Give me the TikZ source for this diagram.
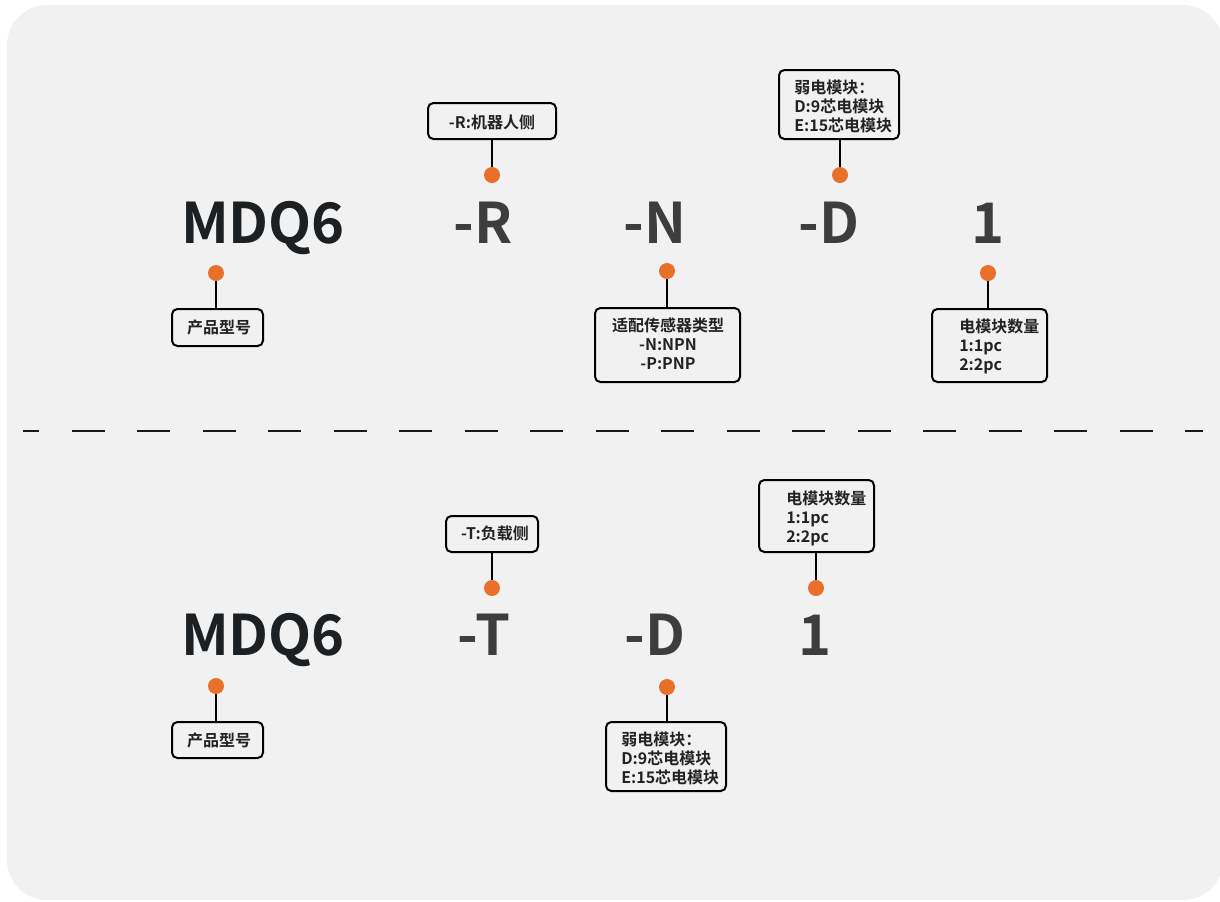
\documentclass[tikz,border=0pt]{standalone}
\usepackage{fontspec}
\setmainfont{Noto Sans CJK SC}[BoldFont={Noto Sans CJK SC Bold}]
\definecolor{bgc}{HTML}{F1F1F1}
\definecolor{dotc}{HTML}{E8702A}
\definecolor{bigdark}{HTML}{1C2022}
\definecolor{biggray}{HTML}{3D3D3D}
\definecolor{txtc}{HTML}{222222}
\tikzset{
  lbl/.style={draw=black, line width=1.5pt, rounded corners=4pt, fill=bgc, inner sep=0pt},
  dotn/.style={circle, fill=dotc, minimum size=12pt, inner sep=0pt},
  bigm/.style={font=\bfseries\fontsize{42}{42}\selectfont, text=bigdark, inner sep=0pt, anchor=base},
  bigg/.style={font=\bfseries\fontsize{42}{42}\selectfont, text=biggray, inner sep=0pt, anchor=base},
  txt/.style={font=\bfseries\fontsize{12}{14.25}\selectfont, text=txtc, inner sep=0pt},
  conn/.style={line width=1.6pt, draw=black},
}
\begin{document}
\begin{tikzpicture}[x=0.75pt, y=-0.75pt]
\useasboundingbox (0,0) rectangle (1220,901);
\clip (0,0) rectangle (1220,901);
\fill[bgc, rounded corners=30pt] (7,5) rectangle (1223,900);

% ---------- top row ----------
\node[bigm] (t0) at (263,243) {MDQ6};
\node[bigg] (t1) at (483,243) {-R};
\node[bigg] (t2) at (655,243) {-N};
\node[bigg] (t3) at (829,243) {-D};
\node[bigg] (t4) at (988,243) {1};

\node[dotn] (td0) at (216,273) {};
\node[dotn] (td1) at (492,175) {};
\node[dotn] (td2) at (667,271) {};
\node[dotn] (td3) at (840,175) {};
\node[dotn] (td4) at (988,273) {};

\node[lbl, minimum width=68.25pt, minimum height=27.75pt] (tb0) at (217.5,327.5) {};
\node[lbl, minimum width=96pt, minimum height=27pt] (tb1) at (492,121) {};
\node[lbl, minimum width=108.75pt, minimum height=55.5pt] (tb2) at (667.5,345) {};
\node[lbl, minimum width=90pt, minimum height=51.75pt] (tb3) at (839,104.5) {};
\node[lbl, minimum width=86.25pt, minimum height=54.75pt] (tb4) at (989.5,345.5) {};

\draw[conn] (td0) -- (td0 |- tb0.north);
\draw[conn] (td1) -- (td1 |- tb1.south);
\draw[conn] (td2) -- (td2 |- tb2.north);
\draw[conn] (td3) -- (td3 |- tb3.south);
\draw[conn] (td4) -- (td4 |- tb4.north);

\node[txt, anchor=base] (tt0) at (219,333) {产品型号};
\node[txt, anchor=base] (tt1) at (492,128) {-R:机器人侧};
\node[txt, anchor=base, align=center] (tt2) at (668,369) {适配传感器类型\\-N:NPN\\-P:PNP};
\node[txt, anchor=base west, align=left] (tt3) at (794,131) {弱电模块：\\D:9芯电模块\\E:15芯电模块};
\node[txt, anchor=base west, align=left] (tt4) at (959,370) {电模块数量\\1:1pc\\2:2pc};

% ---------- separator ----------
\draw[line width=1.5pt, color=black!90, dash pattern=on 24.75pt off 24.375pt, dash phase=12.75pt] (23,431) coordinate (s0) -- (1203,431) coordinate (s1);

% ---------- bottom row ----------
\node[bigm] (b0) at (263,655) {MDQ6};
\node[bigg] (b1) at (484,655) {-T};
\node[bigg] (b2) at (655,655) {-D};
\node[bigg] (b3) at (815,655) {1};

\node[dotn] (bd0) at (216,686) {};
\node[dotn] (bd1) at (492,588) {};
\node[dotn] (bd2) at (667,687) {};
\node[dotn] (bd3) at (816,588) {};

\node[lbl, minimum width=68.25pt, minimum height=27pt] (bb0) at (217.5,740) {};
\node[lbl, minimum width=69pt, minimum height=27pt] (bb1) at (492,534) {};
\node[lbl, minimum width=90pt, minimum height=51.75pt] (bb2) at (666,756.5) {};
\node[lbl, minimum width=86.25pt, minimum height=54pt] (bb3) at (816.5,516) {};

\draw[conn] (bd0) -- (bd0 |- bb0.north);
\draw[conn] (bd1) -- (bd1 |- bb1.south);
\draw[conn] (bd2) -- (bd2 |- bb2.north);
\draw[conn] (bd3) -- (bd3 |- bb3.south);

\node[txt, anchor=base] (bt0) at (219,746) {产品型号};
\node[txt, anchor=base] (bt1) at (495,539) {-T:负载侧};
\node[txt, anchor=base west, align=left] (bt2) at (621,783) {弱电模块：\\D:9芯电模块\\E:15芯电模块};
\node[txt, anchor=base west, align=left] (bt3) at (786,542) {电模块数量\\1:1pc\\2:2pc};
\end{tikzpicture}
\end{document}
